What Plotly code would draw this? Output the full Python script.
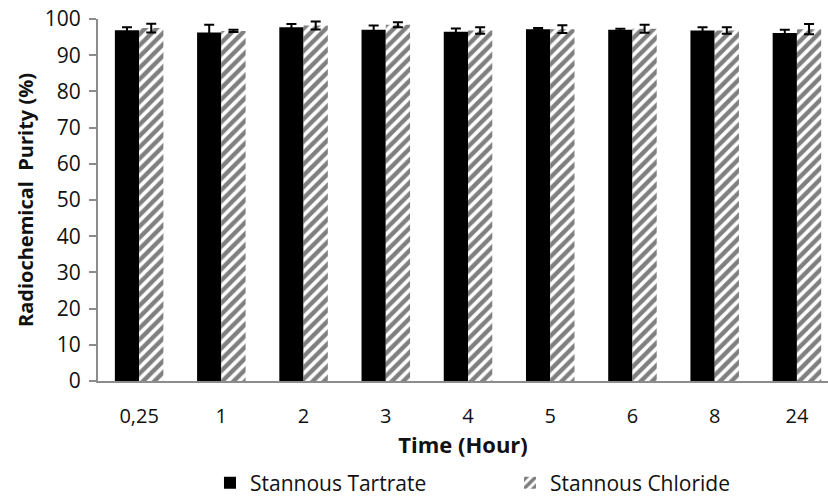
import plotly.graph_objects as go

categories = ["0,25", "1", "2", "3", "4", "5", "6", "8", "24"]
tartrate = [96.9, 96.3, 97.7, 97.0, 96.5, 97.2, 97.0, 96.8, 96.1]
tartrate_err = [0.8, 2.1, 0.9, 1.2, 0.9, 0.3, 0.3, 0.9, 0.9]
chloride = [97.5, 96.7, 98.2, 98.4, 96.8, 97.2, 97.3, 96.8, 97.2]
chloride_err = [1.2, 0.3, 1.1, 0.7, 0.9, 1.1, 1.1, 0.9, 1.4]
y_ticks = [0, 10, 20, 30, 40, 50, 60, 70, 80, 90, 100]

FONT = "Open Sans"
TXT = "#111"

fig = go.Figure()
fig.add_trace(go.Bar(
    x=categories, y=tartrate, name="Stannous Tartrate",
    marker=dict(color="black", line=dict(width=0)),
    error_y=dict(type="data", array=tartrate_err, color="black", thickness=2, width=5),
))
fig.add_trace(go.Bar(
    x=categories, y=chloride, name="Stannous Chloride",
    marker=dict(color="white", line=dict(width=0),
                pattern=dict(shape="/", fgcolor="black", bgcolor="white", size=8, solidity=0.55)),
    error_y=dict(type="data", array=chloride_err, color="black", thickness=2, width=5),
))

fig.update_layout(
    width=828, height=498,
    margin=dict(l=98, r=0, t=19, b=117, autoexpand=False),
    paper_bgcolor="white", plot_bgcolor="white",
    barmode="group", bargap=0.41, bargroupgap=0,
    font=dict(family=FONT, size=20, color=TXT),
    showlegend=True,
    legend=dict(orientation="h", x=0.1534, xanchor="left", xref="paper",
                y=-0.282, yanchor="middle", entrywidth=255, tracegroupgap=0,
                font=dict(family=FONT, size=21, color=TXT)),
)
fig.update_xaxes(
    type="category", range=[-0.5, 8.378],
    showline=True, linecolor="#8c8c8c", linewidth=2,
    ticks="", showgrid=False, ticklabelstandoff=16,
    tickfont=dict(family=FONT, size=20, color=TXT),
    title=dict(text="<b>Time (Hour)</b>", font=dict(family=FONT, size=22, color=TXT), standoff=8),
)
fig.update_yaxes(
    range=[0, 100], tickvals=y_ticks,
    showline=True, linecolor="#8c8c8c", linewidth=2,
    ticks="outside", ticklen=7, tickcolor="#8c8c8c", tickwidth=2,
    showgrid=False, zeroline=False, ticklabelstandoff=4,
    tickfont=dict(family=FONT, size=21, color=TXT),
    title=dict(text="<b>Radiochemical  Purity (%)</b>", font=dict(family=FONT, size=20, color=TXT), standoff=6),
)

fig.write_html("out.html")
